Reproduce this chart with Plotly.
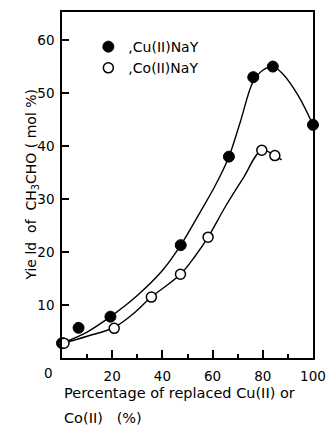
import plotly.graph_objects as go

# Measured data points
cu_x = [0, 6.6, 19.3, 47.3, 66.5, 76.2, 84.0, 100.0]
cu_y = [2.8, 5.7, 7.8, 21.3, 38.0, 53.0, 55.0, 44.0]
co_x = [0.8, 20.8, 35.6, 47.2, 58.2, 79.6, 84.8]
co_y = [2.8, 5.6, 11.5, 15.8, 22.8, 39.2, 38.2]

# Hand-drawn smooth curves
cu_curve_x = [0, 10, 19.3, 30, 40, 47.3, 55, 61, 66.5, 71, 76.2, 80, 84, 88, 94, 100]
cu_curve_y = [2.8, 4.9, 7.8, 11.8, 16.5, 21.3, 27.5, 32.5, 38.0, 44.5, 52.2, 54.3, 55.0, 53.6, 49.6, 44.0]
co_curve_x = [0.8, 10, 20.8, 28, 35.6, 47.2, 53, 58.2, 65, 72, 79.6, 84.8, 87.5]
co_curve_y = [2.8, 4.1, 5.8, 8.2, 11.5, 15.8, 19.2, 22.8, 28.5, 33.8, 39.2, 38.2, 37.4]

x_ticks = [20, 40, 60, 80, 100]
y_ticks = [10, 20, 30, 40, 50, 60]

FONT = "DejaVu Sans"

fig = go.Figure()
fig.add_trace(go.Scatter(x=co_curve_x, y=co_curve_y, mode="lines", line=dict(shape="spline", color="black", width=1.4),
                         showlegend=False, hoverinfo="skip"))
fig.add_trace(go.Scatter(x=cu_curve_x, y=cu_curve_y, mode="lines", line=dict(shape="spline", color="black", width=1.4),
                         showlegend=False, hoverinfo="skip"))
fig.add_trace(go.Scatter(x=cu_x, y=cu_y, mode="markers", name=",Cu(II)NaY", legendgroup="cu",
                         marker=dict(symbol="circle", size=11, color="black", line=dict(color="black", width=1)),
                         cliponaxis=False))
fig.add_trace(go.Scatter(x=co_x, y=co_y, mode="markers", name=",Co(II)NaY", legendgroup="co",
                         marker=dict(symbol="circle", size=10, color="white", line=dict(color="black", width=1.5)),
                         cliponaxis=False))

fig.update_layout(
    width=336, height=425,
    margin=dict(l=62, r=10, t=11, b=67),
    plot_bgcolor="white", paper_bgcolor="white",
    font=dict(family=FONT, size=12, color="black"),
    legend=dict(x=0.105, y=0.945, xanchor="left", yanchor="top", bgcolor="rgba(0,0,0,0)",
                font=dict(family=FONT, size=14, color="black"), itemwidth=30, tracegroupgap=0),
    xaxis=dict(range=[0, 100], showline=True, mirror=True, linecolor="black", linewidth=1.5,
               showgrid=False, zeroline=False, ticks="inside", ticklen=8, tickwidth=1.5, tickcolor="black",
               tickvals=x_ticks, ticktext=[str(v) for v in x_ticks], ticklabelstandoff=5,
               ticklabeloverflow="allow",
               tickfont=dict(family=FONT, size=13.5),
               minor=dict(tickvals=[10, 30, 50, 70, 90], ticks="inside", ticklen=4, tickwidth=1.5, tickcolor="black")),
    yaxis=dict(range=[0, 65.3], showline=True, mirror=True, linecolor="black", linewidth=1.5,
               showgrid=False, zeroline=False, ticks="inside", ticklen=7, tickwidth=1.5, tickcolor="black",
               tickvals=y_ticks, ticktext=[str(v) for v in y_ticks], ticklabelstandoff=3,
               tickfont=dict(family=FONT, size=13.5)),
)

fig.add_annotation(x=0, y=0, xref="x", yref="y", text="0", showarrow=False, xshift=-14, yshift=-15,
                   font=dict(family=FONT, size=13.5))
fig.add_annotation(x=(30 - 62) / 264, y=0.5, xref="paper", yref="paper", xanchor="center", yanchor="middle",
                   text="Yie ld  of  CH<sub>3</sub>CHO ( mol %)",
                   textangle=-90, showarrow=False, font=dict(family=FONT, size=14))
fig.add_annotation(x=0, y=(358 - 393) / 347, xref="paper", yref="paper", xanchor="left", yanchor="middle",
                   text="Percentage of replaced Cu(II) or", showarrow=False, font=dict(family=FONT, size=14.5))
fig.add_annotation(x=0, y=(358 - 418) / 347, xref="paper", yref="paper", xanchor="left", yanchor="middle",
                   text="Co(II)   (%)", showarrow=False, font=dict(family=FONT, size=14.5))

fig.write_html("out.html", config={"displayModeBar": False},
               post_script="document.body.style.margin='0';document.body.style.padding='0';")
